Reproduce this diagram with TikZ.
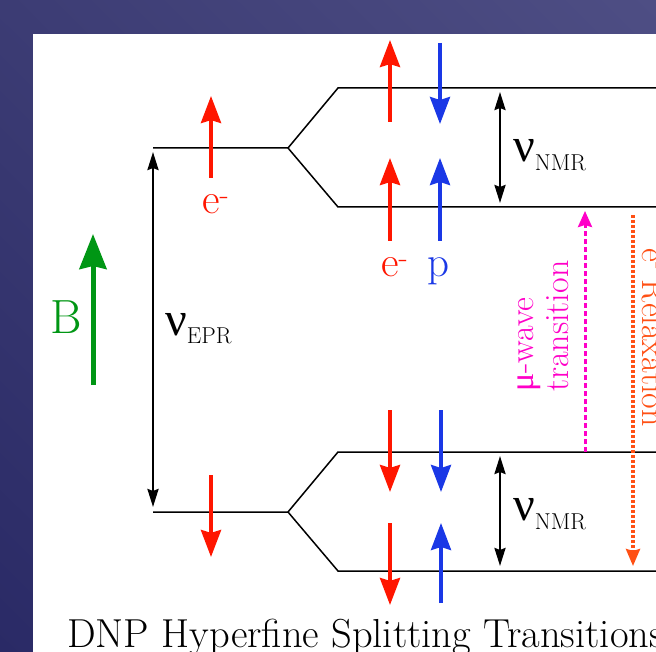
\documentclass[tikz,border=0pt]{standalone}
\usepackage{fontspec}
\newfontfamily\grk{Liberation Serif}
\usetikzlibrary{arrows.meta,shadings}
\definecolor{bgA}{RGB}{60,60,116}
\definecolor{bgB}{RGB}{78,78,132}
\definecolor{bgC}{RGB}{42,42,102}
\definecolor{bgD}{RGB}{60,60,116}
\definecolor{spinred}{RGB}{255,22,0}
\definecolor{spinblue}{RGB}{26,56,230}
\definecolor{bgreen}{RGB}{0,150,20}
\definecolor{mwave}{RGB}{255,0,200}
\definecolor{relax}{RGB}{255,80,20}
\tikzset{
  level/.style={line width=1.5pt, line join=miter},
  redspin/.style={draw=spinred, line width=4pt, -{Stealth[length=27pt,width=20pt,inset=3pt]}},
  bluespin/.style={draw=spinblue, line width=3.5pt, -{Stealth[length=27pt,width=20pt,inset=3pt]}},
  gap/.style={draw=black, line width=2.5pt, {Stealth[length=18pt,width=11pt,inset=2pt]}-{Stealth[length=18pt,width=11pt,inset=2pt]}},
  lbl/.style={inner sep=0pt, font=\fontsize{43}{50}\selectfont},
  side/.style={inner sep=0pt, font=\fontsize{34}{40}\selectfont},
}
\newcommand{\nulab}[1]{{\fontsize{48}{56}\selectfont\grk ν}\raisebox{-9pt}{\fontsize{23}{27}\selectfont #1}}
\begin{document}
\begin{tikzpicture}[x=1pt,y=-1pt]
\useasboundingbox (0,0) rectangle (656,652);
\shade[upper left=bgA, upper right=bgB, lower left=bgC, lower right=bgD] (0,0) rectangle (656,652);
\fill[white] (33,34) rectangle (656,652);
% energy levels
\coordinate (uL) at (153,148); \coordinate (uS) at (288,148);
\coordinate (uaC) at (338,88); \coordinate (uaR) at (657,88);
\coordinate (ubC) at (338,207); \coordinate (ubR) at (657,207);
\coordinate (lL) at (153,512); \coordinate (lS) at (288,512);
\coordinate (laC) at (338,452); \coordinate (laR) at (657,452);
\coordinate (lbC) at (338,571); \coordinate (lbR) at (657,571);
\draw[level] (uL) -- (uS) -- (uaC) -- (uaR);
\draw[level] (uS) -- (ubC) -- (ubR);
\draw[level] (lL) -- (lS) -- (laC) -- (laR);
\draw[level] (lS) -- (lbC) -- (lbR);
% B field
\draw[draw=bgreen, line width=5pt, -{Stealth[length=35pt,width=27pt,inset=3pt]}] (93,385) -- (93,234);
\node[lbl, text=bgreen, font=\fontsize{48}{54}\selectfont, anchor=base west] (B) at (50,334) {B};
% EPR gap
\draw[gap] (153,152) -- (153,507);
\node[inner sep=0pt, anchor=base west] (nuEPR) at (165,335) {\nulab{EPR}};
% left spins
\draw[redspin] (211,178) -- (211,96);
\node[lbl, text=spinred, anchor=base west] (e1) at (202,214) {e\textsuperscript{-}};
\draw[redspin] (211,475) -- (211,557);
% right column, upper manifold
\draw[redspin] (390,122) -- (390,40);
\draw[bluespin] (440,43) -- (440,124);
\draw[redspin] (390,241) -- (390,158);
\draw[bluespin] (440,241) -- (440,158);
\node[lbl, text=spinred, anchor=base west] (e2) at (381,277) {e\textsuperscript{-}};
\node[lbl, text=spinblue, anchor=base west] (p) at (427,277) {p};
% lower manifold
\draw[redspin] (390,410) -- (390,492);
\draw[bluespin] (441,410) -- (441,492);
\draw[redspin] (390,523) -- (390,605);
\draw[bluespin] (441,603) -- (441,523);
% NMR gaps
\draw[gap] (500,92) -- (500,203);
\node[inner sep=0pt, anchor=base west] (nuNMR1) at (513,162) {\nulab{NMR}};
\draw[gap] (500,456) -- (500,566);
\node[inner sep=0pt, anchor=base west] (nuNMR2) at (513,520) {\nulab{NMR}};
% microwave transition
\draw[draw=mwave, line width=3pt, dash pattern=on 5pt off 3pt, -{Stealth[length=16pt,width=14pt,inset=2pt]}] (585,452) -- (585,211);
\node[side, text=mwave, rotate=90, anchor=base west] (mw1) at (533,392) {{\grk μ}-wave};
\node[side, text=mwave, rotate=90, anchor=base west] (mw2) at (568,392) {transition};
% relaxation
\draw[draw=relax, line width=3.5pt, dash pattern=on 3pt off 2pt, -{Stealth[length=17pt,width=14pt,inset=2pt]}] (633,215) -- (633,566);
\node[side, text=relax, rotate=-90, anchor=base west] (rel) at (642,248) {e\textsuperscript{-} Relaxation};
% caption
\node[inner sep=0pt, font=\fontsize{40.5}{46}\selectfont, anchor=base west] (cap) at (67,647) {DNP Hyperfine Splitting Transitions};
\end{tikzpicture}
\end{document}
